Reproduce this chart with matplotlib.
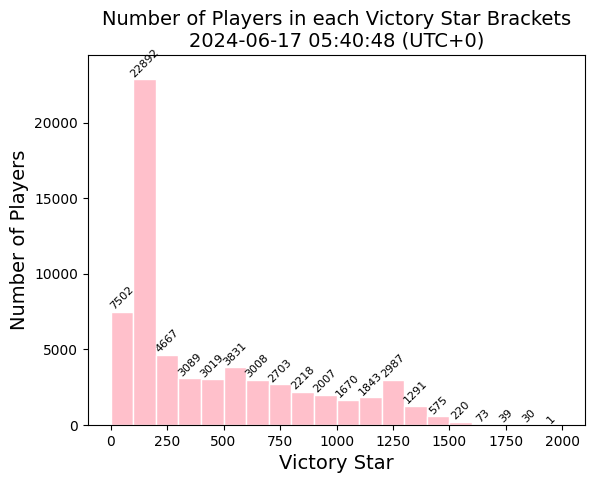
import numpy as np
import matplotlib
matplotlib.use('Agg')
import matplotlib.pyplot as plt

# Victory star brackets (width 100) and player counts
bin_edges = list(range(0, 2001, 100))
player_counts = [7502, 22892, 4667, 3089, 3019, 3831, 3008, 2703, 2218, 2007,
                 1670, 1843, 2987, 1291, 575, 220, 73, 39, 30, 1]
timestamp = "2024-06-17 05:40:48 (UTC+0)"

fig = plt.figure(figsize=(5.94, 4.83), dpi=100)
ax = fig.add_axes([0.148, 0.120, 0.837, 0.766])

lefts = np.array(bin_edges[:-1])
widths = np.diff(bin_edges)
bars = ax.bar(lefts, player_counts, width=widths, align='edge',
              color='pink', edgecolor='white')

# Count labels above each bar
for bar, count in zip(bars, player_counts):
    ax.text(bar.get_x() + bar.get_width() / 2, bar.get_height(), str(count),
            ha='center', va='bottom', rotation=45, fontsize=8)

ax.set_ylim(0, 24480)
ax.set_title(f"Number of Players in each Victory Star Brackets\n{timestamp}", fontsize=14)
ax.set_xlabel("Victory Star", fontsize=14)
ax.set_ylabel("Number of Players", fontsize=14)

fig.savefig("out.png", dpi=100)
